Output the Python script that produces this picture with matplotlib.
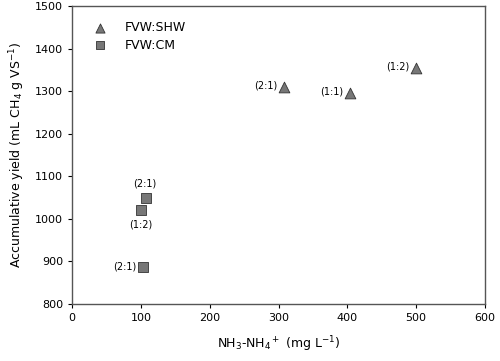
import matplotlib
matplotlib.use('Agg')
from matplotlib import pyplot as plt

plt.rcParams['font.family'] = ['DejaVu Sans']
plt.rcParams['mathtext.default'] = 'regular'

SHW_X = [308, 404, 500]
SHW_Y = [1310, 1296, 1354]
SHW_LABELS = ['(2:1)', '(1:1)', '(1:2)']

CM_X = [107, 100, 103]
CM_Y = [1049, 1022, 888]
CM_LABELS = ['(2:1)', '(1:2)', '(2:1)']

X_TICKS = [0, 100, 200, 300, 400, 500, 600]
Y_TICKS = [800, 900, 1000, 1100, 1200, 1300, 1400, 1500]

MARKER_FACE = '#777777'
MARKER_EDGE = '#333333'


def main():
    fig = plt.figure(figsize=(5.0, 3.61), dpi=100)
    ax = fig.add_axes([0.144, 0.158, 0.826, 0.825])

    ax.scatter(SHW_X, SHW_Y, marker='^', s=60, color=MARKER_FACE,
               edgecolor=MARKER_EDGE, linewidth=0.6, label='FVW:SHW', zorder=3)
    ax.scatter(CM_X, CM_Y, marker='s', s=50, color=MARKER_FACE,
               edgecolor=MARKER_EDGE, linewidth=0.6, label='FVW:CM', zorder=3)

    # ratio labels, placed by hand around each point
    for x, y, text in zip(SHW_X, SHW_Y, SHW_LABELS):
        ax.annotate(text, (x, y), xytext=(-5, 1), textcoords='offset points',
                    ha='right', va='center', fontsize=7)
    offsets = [(-1, 7), (0, -7), (-5, 0)]
    aligns = [('center', 'bottom'), ('center', 'top'), ('right', 'center')]
    for (x, y, text), off, (ha, va) in zip(zip(CM_X, CM_Y, CM_LABELS),
                                           offsets, aligns):
        ax.annotate(text, (x, y), xytext=off, textcoords='offset points',
                    ha=ha, va=va, fontsize=7)

    ax.set_xlim(0, 600)
    ax.set_ylim(800, 1500)
    ax.set_xticks(X_TICKS)
    ax.set_yticks(Y_TICKS)
    ax.tick_params(labelsize=8, length=3, width=0.8, top=False, right=False)
    for spine in ax.spines.values():
        spine.set_color('#555555')
        spine.set_linewidth(1.0)

    ax.set_xlabel(r'NH$_3$-NH$_4$$^+$ (mg L$^{-1}$)', fontsize=9, labelpad=8)
    ax.set_ylabel(r'Accumulative yield (mL CH$_4$ g VS$^{-1}$)', fontsize=9,
                  labelpad=6)

    ax.legend(loc='upper left', frameon=False, fontsize=9, markerscale=0.85,
              handletextpad=1.0, borderaxespad=0.8, labelspacing=0.35)

    fig.savefig('out.png', dpi=100)


if __name__ == '__main__':
    main()
